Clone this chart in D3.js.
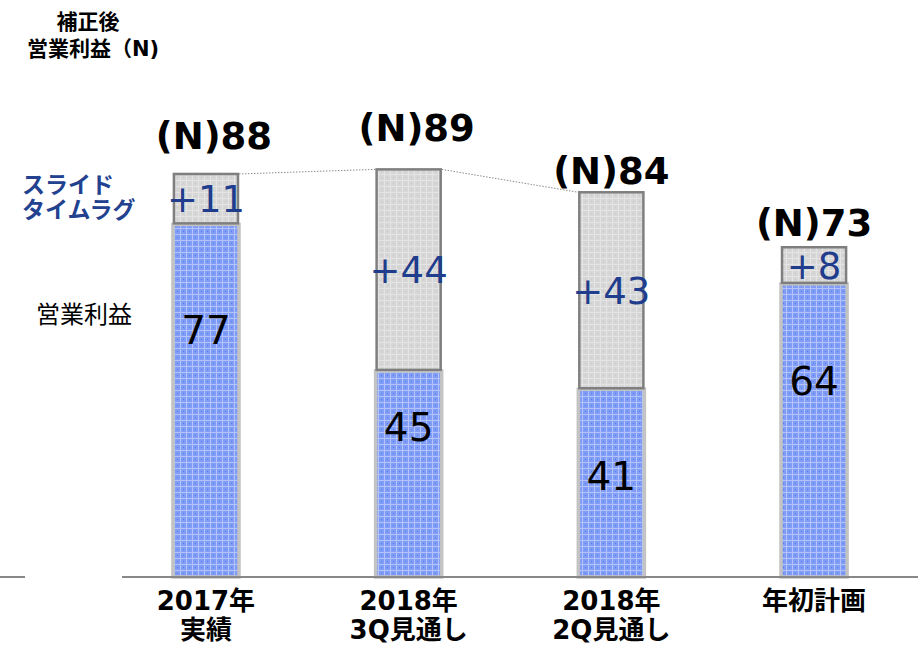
<!DOCTYPE html>
<html>
<head>
<meta charset="utf-8">
<script src="https://cdn.jsdelivr.net/npm/d3@7"></script>
<style>
  body { margin: 0; background: #fff; }
  svg { display: block; }
</style>
</head>
<body>
<svg width="918" height="645"></svg>
<script>
// data
const categories = ["2017年 実績", "2018年 3Q見通し", "2018年 2Q見通し", "年初計画"];
const profit = [77, 45, 41, 64];      // 営業利益
const slideLag = [11, 44, 43, 8];     // スライドタイムラグ
const totals = [88, 89, 84, 73];      // 補正後営業利益 (N)

// hand placement of labels (not data)
const profitLabelFrac = [0.70, 0.73, 0.54, 0.67];
const totalLabelGap = [25, 28, 8, 11];
const totalLabelShift = [8, 8, 0, 0];

const svg = d3.select("svg");
const numFont = "'DejaVu Sans', Verdana, sans-serif";
const jpFont = "'DejaVu Sans', 'Noto Sans CJK JP', sans-serif";

const x = d3.scaleBand()
  .domain(categories)
  .range([104.6, 915.4])
  .paddingInner(0.674)
  .paddingOuter(0.337);

const y = d3.scaleLinear().domain([0, 100]).range([577, 119]);

// patterns for the textured fills
const defs = svg.append("defs");
const blue = defs.append("pattern")
  .attr("id", "bluePat").attr("patternUnits", "userSpaceOnUse")
  .attr("width", 6).attr("height", 6);
blue.append("rect").attr("width", 6).attr("height", 6).attr("fill", "#7f9cf6");
blue.append("rect").attr("width", 6).attr("height", 1).attr("fill", "#b4c4fa");
blue.append("rect").attr("width", 1).attr("height", 6).attr("fill", "#b4c4fa");
blue.append("rect").attr("x", 3).attr("y", 3).attr("width", 1).attr("height", 1).attr("fill", "#5a7bef");

const gray = defs.append("pattern")
  .attr("id", "grayPat").attr("patternUnits", "userSpaceOnUse")
  .attr("width", 6).attr("height", 6);
gray.append("rect").attr("width", 6).attr("height", 6).attr("fill", "#d6d6d6");
gray.append("rect").attr("width", 6).attr("height", 1).attr("fill", "#e4e4e4");
gray.append("rect").attr("width", 1).attr("height", 6).attr("fill", "#e4e4e4");
gray.append("rect").attr("x", 3).attr("y", 3).attr("width", 1).attr("height", 1).attr("fill", "#cacaca");

const rows = categories.map((c, i) => ({
  cat: c, profit: profit[i], lag: slideLag[i], total: totals[i], i: i
}));

// dotted connectors between the first three bar tops
const links = [[0, 1], [1, 2]];
svg.append("g").selectAll("line")
  .data(links)
  .join("line")
  .attr("x1", d => x(categories[d[0]]) + x.bandwidth())
  .attr("y1", d => y(profit[d[0]] + slideLag[d[0]]))
  .attr("x2", d => x(categories[d[1]]))
  .attr("y2", d => y(profit[d[1]] + slideLag[d[1]]))
  .attr("stroke", "#8c8c8c")
  .attr("stroke-width", 1)
  .attr("stroke-dasharray", "1.5,1.5");

const bars = svg.append("g").selectAll("g")
  .data(rows)
  .join("g");

// blue operating profit segment
bars.append("rect")
  .attr("x", d => x(d.cat))
  .attr("y", d => y(d.profit))
  .attr("width", x.bandwidth())
  .attr("height", d => y(0) - y(d.profit))
  .attr("fill", "url(#bluePat)")
  .attr("stroke", "#c3c3c3")
  .attr("stroke-width", 3.5);

// gray time-lag segment
bars.append("rect")
  .attr("x", d => x(d.cat) + 1)
  .attr("y", d => y(d.profit + d.lag))
  .attr("width", x.bandwidth() - 2)
  .attr("height", d => y(d.profit) - y(d.profit + d.lag) - 1)
  .attr("fill", "url(#grayPat)")
  .attr("stroke", "#7f7f7f")
  .attr("stroke-width", 2.5);

// axis line (broken at the left as in the original)
const axisSegs = [[0, 25], [122, 918]];
svg.append("g").selectAll("line")
  .data(axisSegs)
  .join("line")
  .attr("x1", d => d[0]).attr("x2", d => d[1])
  .attr("y1", y(0)).attr("y2", y(0))
  .attr("stroke", "#888")
  .attr("stroke-width", 2);

// value labels
bars.append("text")
  .attr("x", d => x(d.cat) + x.bandwidth() / 2)
  .attr("y", d => y((d.profit + d.lag / 2)))
  .attr("dy", "0.36em")
  .attr("text-anchor", "middle")
  .style("font-family", numFont)
  .style("font-size", "37px")
  .style("fill", "#1f3d8c")
  .text(d => "+" + d.lag);

bars.append("text")
  .attr("x", d => x(d.cat) + x.bandwidth() / 2)
  .attr("y", d => y(d.profit * profitLabelFrac[d.i]))
  .attr("dy", "0.36em")
  .attr("text-anchor", "middle")
  .style("font-family", numFont)
  .style("font-size", "39px")
  .style("fill", "#000")
  .text(d => d.profit);

bars.append("text")
  .attr("x", d => x(d.cat) + x.bandwidth() / 2 + totalLabelShift[d.i])
  .attr("y", d => y(d.profit + d.lag) - totalLabelGap[d.i])
  .attr("text-anchor", "middle")
  .style("font-family", numFont)
  .style("font-size", "37px")
  .style("font-weight", "bold")
  .style("fill", "#000")
  .text(d => "(N)" + d.total);

// category labels, split on the space into two lines
bars.append("text")
  .attr("text-anchor", "middle")
  .style("font-family", jpFont)
  .style("font-size", "26px")
  .style("font-weight", "bold")
  .style("fill", "#000")
  .selectAll("tspan")
  .data(d => d.cat.split(" ").map(t => ({t: t, cx: x(d.cat) + x.bandwidth() / 2})))
  .join("tspan")
  .attr("x", d => d.cx)
  .attr("y", (d, i) => 610 + i * 29)
  .text(d => d.t);

// title at the top left
svg.append("text")
  .attr("text-anchor", "middle")
  .style("font-family", jpFont)
  .style("font-size", "21px")
  .style("font-weight", "bold")
  .selectAll("tspan")
  .data(["補正後", "営業利益（N)"])
  .join("tspan")
  .attr("x", (d, i) => i === 0 ? 88 : 93)
  .attr("y", (d, i) => 29 + i * 27)
  .text(d => d);

// series names on the left
svg.append("g").selectAll("text")
  .data(["スライド", "タイムラグ"])
  .join("text")
  .attr("x", 22)
  .attr("y", (d, i) => 193 + i * 25)
  .style("font-family", jpFont)
  .style("font-size", "23px")
  .style("font-weight", "bold")
  .style("fill", "#22418f")
  .text(d => d);

svg.append("text")
  .attr("x", 36)
  .attr("y", 323)
  .style("font-family", jpFont)
  .style("font-size", "24px")
  .style("fill", "#000")
  .text("営業利益");
</script>
</body>
</html>
